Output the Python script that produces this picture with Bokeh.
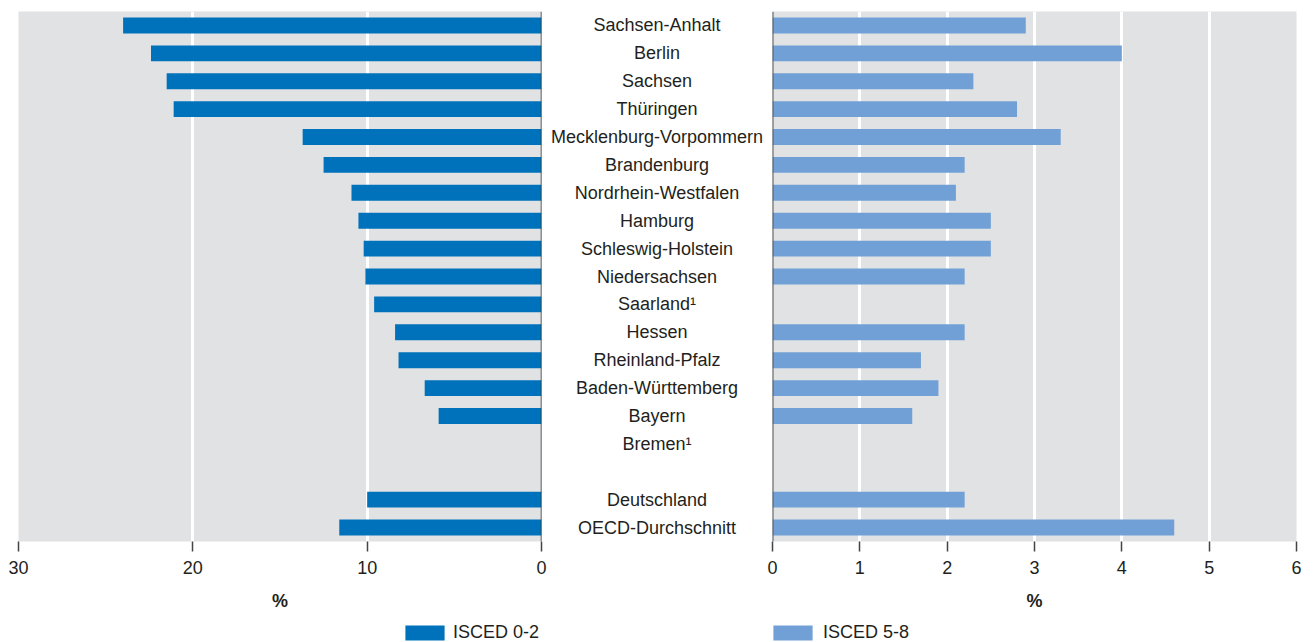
from bokeh.plotting import figure
from bokeh.models import FactorRange, Range1d, FixedTicker, Span, Legend, LegendItem
from bokeh.layouts import row, column
from bokeh.embed import file_html
from bokeh.resources import INLINE
from bokeh.core.properties import value

# ---------------- data ----------------
states = ["Sachsen-Anhalt", "Berlin", "Sachsen", "Thüringen", "Mecklenburg-Vorpommern",
          "Brandenburg", "Nordrhein-Westfalen", "Hamburg", "Schleswig-Holstein",
          "Niedersachsen", "Saarland¹", "Hessen", "Rheinland-Pfalz",
          "Baden-Württemberg", "Bayern", "Bremen¹"]
isced_0_2 = [24.0, 22.4, 21.5, 21.1, 13.7, 12.5, 10.9, 10.5, 10.2, 10.1, 9.6, 8.4, 8.2, 6.7, 5.9, None]
isced_5_8 = [2.9, 4.0, 2.3, 2.8, 3.3, 2.2, 2.1, 2.5, 2.5, 2.2, None, 2.2, 1.7, 1.9, 1.6, None]

summary = ["Deutschland", "OECD-Durchschnitt"]
summary_0_2 = [10.0, 11.6]
summary_5_8 = [2.2, 4.6]

ticks_left = [30, 20, 10, 0]
ticks_right = [0, 1, 2, 3, 4, 5, 6]
series_names = ["ISCED 0-2", "ISCED 5-8"]

# ---------------- styles ----------------
FONT = "Liberation Sans"
TXT = "#231F20"
BG = "#E1E2E4"
C_LEFT = "#0072BB"
C_RIGHT = "#70A0D6"
H = 616
TOP = 11
BOTTOM = 75

rows = states + [" "] + summary
yr = FactorRange(factors=rows[::-1])

def pairs(cats, vals):
    c, v = [], []
    for a, b in zip(cats, vals):
        if b is not None:
            c.append(a)
            v.append(b)
    return c, v

def style_axis(p, ticks):
    ax = p.xaxis[0]
    ax.ticker = FixedTicker(ticks=ticks)
    ax.axis_line_color = None
    ax.major_tick_out = 10
    ax.major_tick_in = 0
    ax.minor_tick_line_color = None
    ax.major_tick_line_color = "#444444"
    ax.major_tick_line_width = 1.5
    ax.major_label_text_font = FONT
    ax.major_label_text_font_size = "18px"
    ax.major_label_text_color = TXT
    ax.major_label_standoff = 9
    ax.axis_label = "%"
    ax.axis_label_text_font = FONT
    ax.axis_label_text_font_size = "18px"
    ax.axis_label_text_font_style = "bold"
    ax.axis_label_text_color = TXT
    ax.axis_label_standoff = 14

def base_fig(width, xr, bl, br):
    p = figure(width=width, height=H, x_range=xr, y_range=yr, output_backend="svg",
               toolbar_location=None, y_axis_location=None,
               min_border_left=bl, min_border_right=br, min_border_top=TOP,
               min_border_bottom=BOTTOM)
    p.outline_line_color = None
    p.background_fill_color = BG
    p.border_fill_color = "white"
    p.ygrid.visible = False
    p.xgrid.grid_line_color = "white"
    p.xgrid.grid_line_width = 3
    return p

# ---------------- left panel ----------------
pl = base_fig(547, Range1d(30, 0), 18, 6)
pl.xgrid.ticker = FixedTicker(ticks=[20, 10])
c, v = pairs(states + summary, isced_0_2 + summary_0_2)
pl.hbar(y=c, left=0, right=v, height=0.57, fill_color=C_LEFT, line_color=None)
pl.add_layout(Span(location=0, dimension="height", line_color="#333333", line_width=1.5))
style_axis(pl, ticks_left)

# ---------------- middle labels ----------------
pm = figure(width=219, height=H, x_range=Range1d(0, 1), y_range=yr, output_backend="svg",
            toolbar_location=None, x_axis_location=None, y_axis_location=None,
            min_border_left=0, min_border_right=0, min_border_top=TOP, min_border_bottom=BOTTOM)
pm.outline_line_color = None
pm.grid.visible = False
pm.background_fill_color = "white"
lab = [r for r in rows if r.strip()]
pm.text(x=[0.5] * len(lab), y=lab, text=lab, text_align="center", text_baseline="middle",
        text_font=value(FONT), text_font_size="18px", text_color=TXT)

# ---------------- right panel ----------------
pr = base_fig(540, Range1d(0, 6), 6, 10)
pr.xgrid.ticker = FixedTicker(ticks=[1, 2, 3, 4, 5])
c, v = pairs(states + summary, isced_5_8 + summary_5_8)
pr.hbar(y=c, left=0, right=v, height=0.57, fill_color=C_RIGHT, line_color=None)
pr.add_layout(Span(location=0, dimension="height", line_color="#555555", line_width=2))
style_axis(pr, ticks_right)

# ---------------- legend strip ----------------
lf = figure(width=1306, height=26, x_range=Range1d(0, 1), y_range=Range1d(0, 1),
            output_backend="svg", toolbar_location=None, x_axis_location=None,
            y_axis_location=None, min_border_left=0, min_border_right=0,
            min_border_top=0, min_border_bottom=0)
lf.outline_line_color = None
lf.grid.visible = False
lf.background_fill_color = "white"
# zero-length key glyphs: they only supply the legend swatches
g_l = lf.hbar(y=[0.5], left=[0], right=[0], height=0.5, fill_color=C_LEFT, line_color=None)
g_r = lf.hbar(y=[0.5], left=[0], right=[0], height=0.5, fill_color=C_RIGHT, line_color=None)

def make_legend(label, renderer, loc, standoff):
    return Legend(items=[LegendItem(label=label, renderers=[renderer])], location=loc,
                  orientation="horizontal", glyph_width=49, glyph_height=19, label_height=19,
                  label_standoff=standoff, padding=0, margin=0, spacing=0,
                  border_line_color=None, background_fill_alpha=0, label_text_font=FONT,
                  label_text_font_size="18px", label_text_color=TXT)

lf.add_layout(make_legend(series_names[0], g_l, (400, -1), 4))
lf.add_layout(make_legend(series_names[1], g_r, (768, -1), 6))

layout = column(row(pl, pm, pr), lf)
open("out.html", "w").write(file_html(layout, INLINE))
